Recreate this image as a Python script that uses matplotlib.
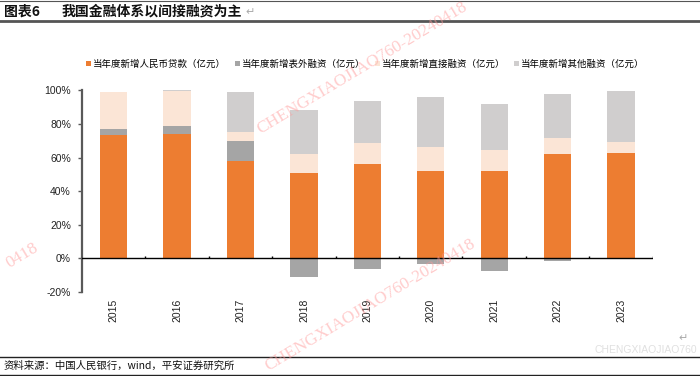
import matplotlib
matplotlib.use("Agg")
import matplotlib.pyplot as plt
import numpy as np
from matplotlib.patches import Patch
from matplotlib.lines import Line2D

plt.rcParams["font.family"] = ["Liberation Sans", "Noto Sans CJK SC", "DejaVu Sans"]

years = ["2015", "2016", "2017", "2018", "2019", "2020", "2021", "2022", "2023"]
loans = [73.7, 73.9, 58.0, 51.1, 56.0, 51.9, 51.9, 62.4, 62.7]
off_balance = [3.1, 4.7, 11.7, -11.3, -6.2, -3.4, -7.4, -1.8, -0.6]
direct = [22.2, 21.0, 5.5, 10.9, 12.7, 14.4, 12.6, 9.5, 6.4]
other = [0.0, 0.6, 24.2, 26.5, 24.8, 30.1, 27.2, 26.1, 30.5]

series_names = [
    "当年度新增人民币贷款（亿元）",
    "当年度新增表外融资（亿元）",
    "当年度新增直接融资（亿元）",
    "当年度新增其他融资（亿元）",
]
colors = ["#ED7D31", "#A5A5A5", "#FBE5D6", "#D0CECE"]

fig = plt.figure(figsize=(7.0, 3.76), dpi=100)
ax = fig.add_axes([82 / 700, 1 - 292 / 376, (652.7 - 82) / 700, (292 - 90.5) / 376])

x = np.arange(len(years))
width = 0.43
pos_bottom = np.zeros(len(years))
neg_bottom = np.zeros(len(years))
for vals, color in zip([loans, off_balance, direct, other], colors):
    vals = np.asarray(vals, dtype=float)
    bottoms = np.where(vals >= 0, pos_bottom, neg_bottom)
    ax.bar(x, vals, width, bottom=bottoms, color=color, linewidth=0, zorder=2)
    pos_bottom = pos_bottom + np.clip(vals, 0, None)
    neg_bottom = neg_bottom + np.clip(vals, None, 0)

ax.set_xlim(-0.5, len(years) - 0.5)
ax.set_ylim(-20, 100)
ax.set_yticks(np.arange(-20, 101, 20))
ax.set_yticklabels([f"{v}%" for v in range(-20, 101, 20)], fontsize=7.5, color="#222222")
ax.tick_params(axis="y", length=3, width=1, color="#595959", pad=5)

ax.set_xticks(x)
ax.set_xticklabels(years, rotation=90, fontsize=7.5, color="#222222", va="top")
ax.tick_params(axis="x", length=0, pad=5)

for side in ["top", "right", "bottom"]:
    ax.spines[side].set_visible(False)
ax.spines["left"].set_color("#595959")
ax.spines["left"].set_linewidth(1.6)

# zero line with category separators
ax.axhline(0, color="black", linewidth=1, zorder=3)
bounds = np.arange(0.5, len(years), 1.0)
ax.vlines(bounds, 0, 1.6, color="black", linewidth=1, zorder=3)

handles = [Patch(facecolor=c, edgecolor="none") for c in colors]
fig.legend(handles, series_names, loc="center", bbox_to_anchor=(0.522, 1 - 64 / 376),
           ncol=4, frameon=False, handlelength=0.5, handleheight=0.5,
           handletextpad=0.2, columnspacing=1.0,
           prop={"family": ["Noto Sans CJK SC"], "size": 6.8})

# title block
fig.text(4 / 700, 1 - 12 / 376, "图表6", fontsize=10, fontweight="bold",
         family=["Noto Sans CJK SC"], va="center", ha="left", color="#111111")
fig.text(62 / 700, 1 - 12 / 376, "我国金融体系以间接融资为主", fontsize=10, fontweight="bold",
         family=["Noto Sans CJK SC"], va="center", ha="left", color="#111111")
fig.text(245 / 700, 1 - 12 / 376, "↵", fontsize=8, family=["DejaVu Sans"],
         va="center", ha="left", color="#aaaaaa")
fig.add_artist(Line2D([0, 1], [1 - 1 / 376, 1 - 1 / 376], color="#555555", linewidth=0.8))
fig.add_artist(Line2D([0, 1], [1 - 21 / 376, 1 - 21 / 376], color="#555555", linewidth=2))

# footer
fig.add_artist(Line2D([0, 1], [1 - 357 / 376, 1 - 357 / 376], color="#222222", linewidth=1))
fig.add_artist(Line2D([0, 1], [1 - 375 / 376, 1 - 375 / 376], color="#222222", linewidth=1))
fig.text(4 / 700, 1 - 366 / 376, "资料来源：中国人民银行，wind，平安证券研究所", fontsize=7.5,
         family=["Noto Sans CJK SC"], va="center", ha="left", color="#111111", style="italic")
fig.text(683 / 700, 1 - 338 / 376, "↵", fontsize=8, family=["DejaVu Sans"],
         va="center", ha="center", color="#aaaaaa")
fig.text(697 / 700, 1 - 350 / 376, "CHENGXIAOJIAO760", fontsize=7.5, va="center", ha="right",
         color="#e0e0e0")

# watermarks
wm = "CHENGXIAOJIAO760-20240418"
for cx, cy in [(362, 68), (370, 305)]:
    fig.text(cx / 700, 1 - cy / 376, wm, fontsize=12.5, family=["Liberation Serif"],
             color="#ff9999", alpha=0.5, rotation=31, ha="center", va="center",
             rotation_mode="anchor", zorder=10)
fig.text(22 / 700, 1 - 256 / 376, "0418", fontsize=12.5, family=["Liberation Serif"],
         color="#ff9999", alpha=0.5, rotation=31, ha="center", va="center",
         rotation_mode="anchor", zorder=10)

fig.savefig("out.png", dpi=100)
